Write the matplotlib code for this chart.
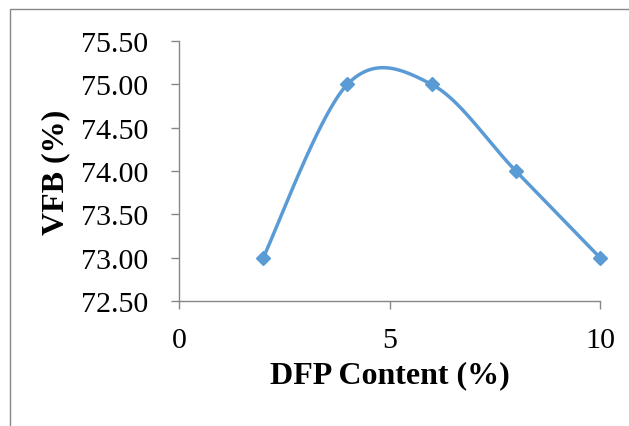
import numpy as np
import matplotlib
matplotlib.use('Agg')
from matplotlib import pyplot as plt
from matplotlib.patches import Rectangle

dfp_content = [2, 4, 6, 8, 10]
vfb = [73.0, 75.0, 75.0, 74.0, 73.0]
x_ticks = [0, 5, 10]
y_ticks = [72.5, 73.0, 73.5, 74.0, 74.5, 75.0, 75.5]

BLUE = '#5B9BD5'
GREY = '#878787'

plt.rcParams['font.family'] = ['Liberation Serif', 'DejaVu Serif']


def smooth_curve(ax, xs, ys, n=40):
    # excel-like smoothing (catmull-rom as bezier), done in display space
    pts = ax.transData.transform(np.column_stack([xs, ys]))
    out = [pts[0]]
    for i in range(len(pts) - 1):
        p0 = pts[i - 1] if i > 0 else pts[i]
        p1 = pts[i]
        p2 = pts[i + 1]
        p3 = pts[i + 2] if i + 2 < len(pts) else pts[i + 1]
        c1 = p1 + (p2 - p0) / 6.
        c2 = p2 - (p3 - p1) / 6.
        t = np.linspace(0, 1, n)[1:, None]
        seg = ((1 - t) ** 3) * p1 + 3 * ((1 - t) ** 2) * t * c1 + 3 * (1 - t) * t ** 2 * c2 + t ** 3 * p2
        out.extend(seg)
    out = np.array(out)
    return ax.transData.inverted().transform(out)


fig = plt.figure(figsize=(6.29, 4.27), dpi=100)
ax = fig.add_axes([179 / 629., 1 - 302 / 427., 421 / 629., 260 / 427.])
ax.set_xlim(0, 10)
ax.set_ylim(72.5, 75.5)

curve = smooth_curve(ax, dfp_content, vfb)
ax.plot(curve[:, 0], curve[:, 1], color=BLUE, lw=2.5, solid_capstyle='round', clip_on=False)
ax.plot(dfp_content, vfb, ls='none', marker='D', ms=7.2, color=BLUE, clip_on=False)

ax.set_xticks(x_ticks)
ax.set_xticklabels([str(v) for v in x_ticks])
ax.set_yticks(y_ticks)
ax.set_yticklabels(['%.2f' % v for v in y_ticks])

for s in ['top', 'right']:
    ax.spines[s].set_visible(False)
for s in ['left', 'bottom']:
    ax.spines[s].set_color(GREY)
    ax.spines[s].set_linewidth(1.0)
ax.tick_params(axis='both', direction='out', length=6, width=1.0, color=GREY,
               labelsize=21.6, labelcolor='black')
ax.tick_params(axis='y', pad=16)
ax.tick_params(axis='x', pad=13)

ax.set_xlabel('DFP Content (%)', fontsize=23, fontweight='bold', labelpad=5)
ax.set_ylabel('VFB (%)', fontsize=23, fontweight='bold', labelpad=8)

# outer chart border
fig.patches.append(Rectangle((10 / 629., -0.1), 1.2, 1 - 10 / 427. + 0.1,
                             transform=fig.transFigure, fill=False,
                             edgecolor=GREY, lw=1.0))

fig.savefig('out.png', dpi=100)
